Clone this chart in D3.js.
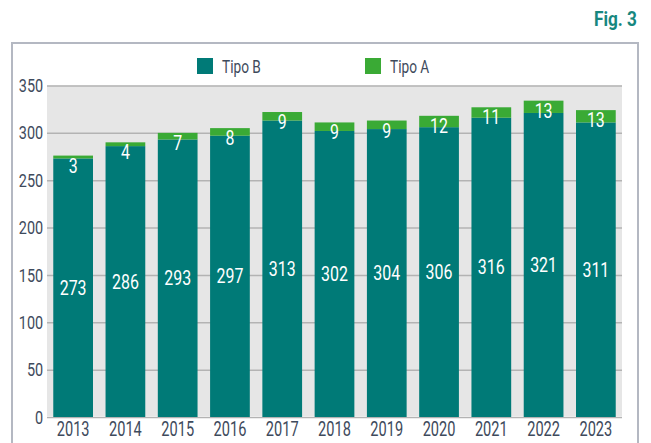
<!DOCTYPE html>
<html>
<head>
<meta charset="utf-8">
<script src="https://cdn.jsdelivr.net/npm/d3@7"></script>
<style>
	body { margin: 0; background: #fff; }
	text { font-family: Roboto, "DejaVu Sans", sans-serif; }
</style>
</head>
<body>
<svg id="barChart"></svg>
<script>
const years = ["2013", "2014", "2015", "2016", "2017", "2018", "2019", "2020", "2021", "2022", "2023"]
const tipoB = [273, 286, 293, 297, 313, 302, 304, 306, 316, 321, 311]
const tipoA = [3, 4, 7, 8, 9, 9, 9, 12, 11, 13, 13]
const yTicks = [0, 50, 100, 150, 200, 250, 300, 350]
const seriesNames = ["Tipo B", "Tipo A"]

function whenDocumentLoaded(action) {
	if (document.readyState === "loading") {
		document.addEventListener("DOMContentLoaded", action);
	} else {
		action();
	}
}

function drawChart() {
	const width = 651, height = 443
	const colorB = "#007a77", colorA = "#3aaa35"
	const textColor = "#3e4a5c"
	// the original uses a condensed face, so squeeze Roboto horizontally
	const narrow = 0.76

	const svg = d3.select("#barChart")
		.attr("width", width)
		.attr("height", height)

	// outer frame (open at the bottom)
	svg.append("path")
		.attr("d", "M12,443 V43 H638 V443")
		.attr("fill", "none")
		.attr("stroke", "#b4b8c2")
		.attr("stroke-width", 2)

	svg.append("text")
		.attr("transform", "translate(637,26) scale(0.82,1)")
		.attr("text-anchor", "end")
		.attr("fill", "#17877f")
		.attr("font-weight", "bold")
		.attr("font-size", 21)
		.text("Fig. 3")

	const data = years.map((d, i) => ({ year: d, b: tipoB[i], a: tipoA[i] }))

	const x = d3.scaleBand()
		.domain(years)
		.range([47, 622])
		.paddingInner(0.24)
		.paddingOuter(0.12)

	const y = d3.scaleLinear()
		.domain([0, 350])
		.range([417, 85.5])

	// plot background
	svg.append("rect")
		.attr("x", 47)
		.attr("y", y(350))
		.attr("width", 622 - 47)
		.attr("height", 416 - y(350))
		.attr("fill", "#e6e6e6")

	// gridlines + y labels via axis
	const yAxis = svg.append("g")
		.attr("transform", "translate(47,0)")
		.call(d3.axisLeft(y).tickValues(yTicks).tickSize(-(622 - 47)).tickPadding(5))
	yAxis.select(".domain").remove()
	yAxis.selectAll(".tick line")
		.attr("stroke", "#b3b3b3")
		.attr("stroke-width", 1.5)
	yAxis.selectAll(".tick text")
		.attr("fill", textColor)
		.attr("font-size", 19)
		.attr("font-family", null)
		.attr("transform", `scale(${narrow},1)`)

	// stacked bars
	svg.append("g").selectAll("rect")
		.data(data)
		.enter()
		.append("rect")
		.attr("x", d => x(d.year))
		.attr("width", x.bandwidth())
		.attr("y", d => y(d.b))
		.attr("height", d => y(0) - y(d.b))
		.attr("fill", colorB)

	svg.append("g").selectAll("rect")
		.data(data)
		.enter()
		.append("rect")
		.attr("x", d => x(d.year))
		.attr("width", x.bandwidth())
		.attr("y", d => y(d.b + d.a))
		.attr("height", d => y(d.b) - y(d.b + d.a))
		.attr("fill", colorA)

	// value labels
	svg.append("g").selectAll("text")
		.data(data)
		.enter()
		.append("text")
		.attr("transform", d => `translate(${x(d.year) + x.bandwidth() / 2},${y(d.b / 2) + 7}) scale(${narrow},1)`)
		.attr("text-anchor", "middle")
		.attr("fill", "#fff")
		.attr("font-size", 21)
		.text(d => d.b)

	svg.append("g").selectAll("text")
		.data(data)
		.enter()
		.append("text")
		.attr("transform", d => `translate(${x(d.year) + x.bandwidth() / 2},${y(d.b + d.a) + 17}) scale(${narrow},1)`)
		.attr("text-anchor", "middle")
		.attr("fill", "#fff")
		.attr("font-size", 21)
		.text(d => d.a)

	// x axis labels
	const xAxis = svg.append("g")
		.attr("transform", `translate(0, 416)`)
		.call(d3.axisBottom(x).tickSize(0).tickPadding(6))
	xAxis.select(".domain").remove()
	xAxis.selectAll(".tick text")
		.attr("fill", textColor)
		.attr("font-size", 20)
		.attr("font-family", null)
		.attr("transform", `scale(${narrow - 0.03},1)`)

	// legend
	const legend = svg.append("g").selectAll("g")
		.data(seriesNames)
		.enter()
		.append("g")
		.attr("transform", (d, i) => `translate(${197 + i * 168}, 58)`)
	legend.append("rect")
		.attr("width", 16)
		.attr("height", 16)
		.attr("fill", (d, i) => i == 0 ? colorB : colorA)
	legend.append("text")
		.attr("transform", "translate(25,15) scale(0.72,1)")
		.attr("fill", textColor)
		.attr("font-size", 19)
		.text(d => d)
}

whenDocumentLoaded(drawChart)
</script>
</body>
</html>
